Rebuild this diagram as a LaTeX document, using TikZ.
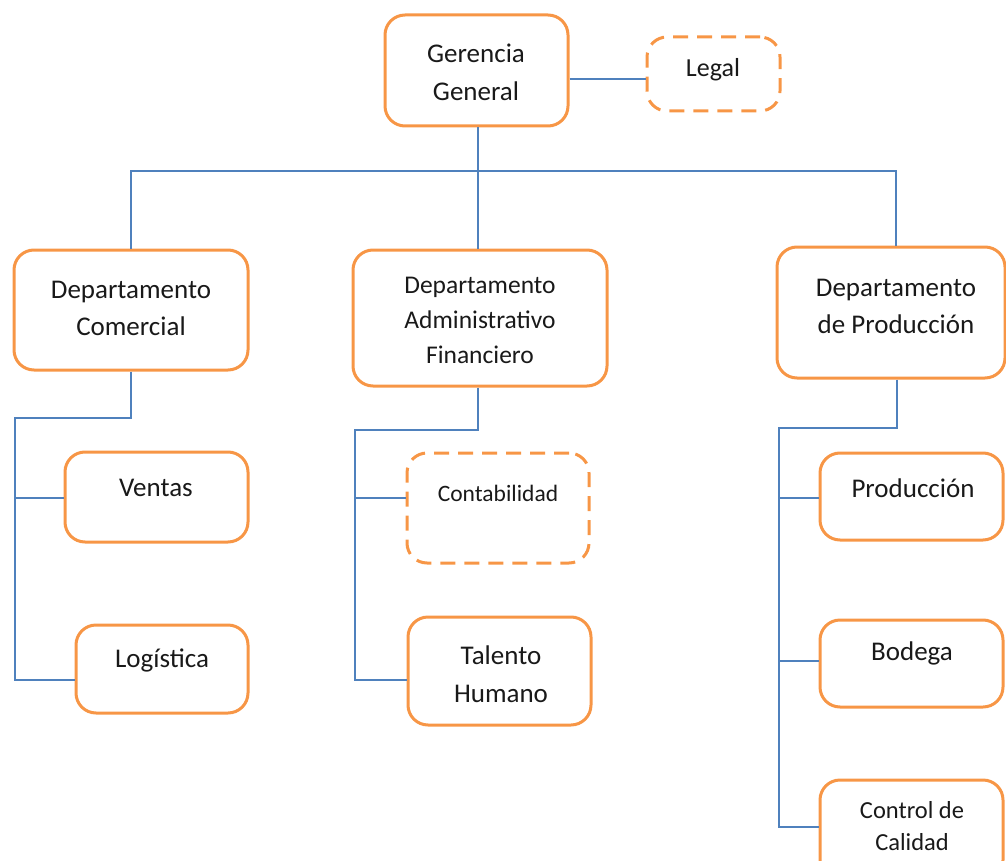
\documentclass[tikz,border=0pt]{standalone}
\usepackage{fontspec}
\setmainfont{Carlito}
\begin{document}
\begin{tikzpicture}[x=1pt,y=-1pt,
  box/.style={draw=boxorange, line width=3pt, rounded corners=20pt, inner sep=0pt},
  dbox/.style={box, dash pattern=on 15pt off 9pt},
  conn/.style={draw=connblue, line width=2pt},
  lbl/.style={align=center, inner sep=0pt, text=black!90, font=\fontsize{27}{37}\selectfont}]
\definecolor{boxorange}{HTML}{F79646}
\definecolor{connblue}{HTML}{4F81BD}
\clip (0,0) rectangle (1006,861);
\useasboundingbox (0,0) rectangle (1006,861);
% boxes
\node[box, minimum width=183pt, minimum height=111pt] (gg) at (476.5,70.5) {};
\node[dbox, minimum width=133pt, minimum height=74pt] (legal) at (713.5,74) {};
\node[box, minimum width=234pt, minimum height=120pt] (dc) at (131,310) {};
\node[box, minimum width=254pt, minimum height=136pt] (da) at (480,318) {};
\node[box, minimum width=228pt, minimum height=131pt] (dp) at (891,312.5) {};
\node[box, minimum width=183pt, minimum height=90pt] (ventas) at (156.5,497) {};
\node[box, minimum width=172pt, minimum height=88pt] (log) at (162,669) {};
\node[dbox, minimum width=182pt, minimum height=110pt] (cont) at (498,508) {};
\node[box, minimum width=183pt, minimum height=108pt] (th) at (499.5,671) {};
\node[box, minimum width=183pt, minimum height=87pt] (prod) at (911.5,496.5) {};
\node[box, minimum width=183pt, minimum height=87pt] (bod) at (911.5,663.5) {};
\node[box, minimum width=183pt, minimum height=100pt] (cc) at (911.5,830) {};
% texts
\node[lbl, font=\fontsize{27}{38}\selectfont] (ggt) at (476,72) {Gerencia\\General};
\node[lbl, font=\fontsize{26}{37}\selectfont] (legalt) at (713,70) {Legal};
\node[lbl] (dct) at (131,308.5) {Departamento\\Comercial};
\node[lbl, font=\fontsize{25.5}{35}\selectfont] (dat) at (480,320) {Departamento\\Administrativo\\Financiero};
\node[lbl] (dpt) at (896,306.5) {Departamento\\de Producción};
\node[lbl] (ventast) at (156,488) {Ventas};
\node[lbl] (logt) at (162,660) {Logística};
\node[lbl, font=\fontsize{23.5}{33}\selectfont] (contt) at (498,493) {Contabilidad};
\node[lbl, font=\fontsize{27}{38}\selectfont] (tht) at (501,674) {Talento\\Humano};
\node[lbl] (prodt) at (913,488) {Producción};
\node[lbl] (bodt) at (912,653) {Bodega};
\node[lbl, font=\fontsize{24.5}{32}\selectfont] (cct) at (912,826) {Control de\\Calidad};
% connector points
\coordinate (legY) at (0,79);
\coordinate (busL) at (131,171);
\coordinate (busC) at (478,171);
\coordinate (busR) at (896,171);
\coordinate (cT) at (131,418);
\coordinate (cL) at (15,418);
\coordinate (cV) at (15,498);
\coordinate (cG) at (15,680);
\coordinate (aT) at (478,430);
\coordinate (aL) at (355,430);
\coordinate (aC) at (355,498);
\coordinate (aH) at (355,680);
\coordinate (pT) at (897,428);
\coordinate (pL) at (779,428);
\coordinate (pP) at (779,498);
\coordinate (pB) at (779,661);
\coordinate (pC) at (779,827);
% connectors
\draw[conn] (gg.east |- legY) -- (legal.west |- legY);
\draw[conn] (gg.south -| busC) -- (busC);
\draw[conn] (busL |- dc.north) -- (busL) -- (busR) -- (busR |- dp.north);
\draw[conn] (busC) -- (busC |- da.north);
\draw[conn] (dc.south -| cT) -- (cT) -- (cL) -- (cG) -- (log.west |- cG);
\draw[conn] (cV) -- (ventas.west |- cV);
\draw[conn] (da.south -| aT) -- (aT) -- (aL) -- (aH) -- (th.west |- aH);
\draw[conn] (aC) -- (cont.west |- aC);
\draw[conn] (dp.south -| pT) -- (pT) -- (pL) -- (pC) -- (cc.west |- pC);
\draw[conn] (pP) -- (prod.west |- pP);
\draw[conn] (pB) -- (bod.west |- pB);
\end{tikzpicture}
\end{document}
